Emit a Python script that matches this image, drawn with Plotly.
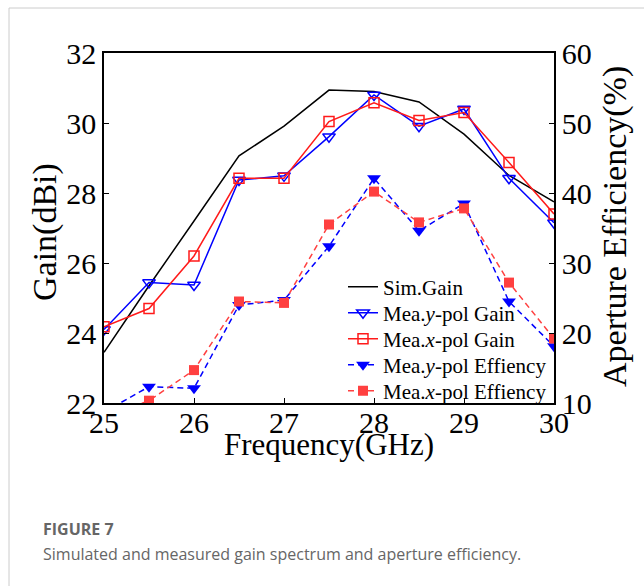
import plotly.graph_objects as go

freq = [25, 25.5, 26, 26.5, 27, 27.5, 28, 28.5, 29, 29.5, 30]
sim_gain = [23.45, 25.35, 27.2, 29.06, 29.91, 30.94, 30.9, 30.6, 29.68, 28.5, 27.75]
ypol_gain = [24.1, 25.44, 25.37, 28.37, 28.49, 29.61, 30.8, 29.91, 30.4, 28.42, 27.15]
xpol_gain = [24.18, 24.7, 26.2, 28.42, 28.42, 30.04, 30.58, 30.07, 30.3, 28.87, 27.4]
ypol_eff = [8.7, 12.33, 12.1, 24.0, 24.7, 32.4, 42.1, 34.6, 38.5, 24.5, 18.1]
xpol_eff = [8.0, 10.33, 14.7, 24.5, 24.3, 35.5, 40.2, 35.8, 37.8, 27.2, 19.2]

names = ["Sim.Gain", "Mea.<i>y</i>-pol Gain", "Mea.<i>x</i>-pol Gain",
         "Mea.<i>y</i>-pol Effiency", "Mea.<i>x</i>-pol Effiency"]

SERIF = "Liberation Serif"
BLUE = "#0000FF"
RED = "#FF1A1A"
RED_FILL = "#FF4040"

# plot area: x 104..554, y 53..403 -> W=450, H=350
L, R, T, B = 104, 90, 53, 183
W, H = 644 - L - R, 586 - T - B

def px(x):
    return (x - L) / W

def py(y):
    return (586 - B - y) / H

legend_ids = ["legend", "legend2", "legend3", "legend4", "legend5"]
row_y = [287, 313, 339, 365, 391]

fig = go.Figure()
fig.add_trace(go.Scatter(x=freq, y=sim_gain, mode="lines", name=names[0], legend=legend_ids[0],
                         line=dict(color="black", width=1.5)))
fig.add_trace(go.Scatter(x=freq, y=ypol_gain, mode="lines+markers", name=names[1], legend=legend_ids[1],
                         line=dict(color=BLUE, width=1.5),
                         marker=dict(symbol="triangle-down-open", size=11, color=BLUE,
                                     line=dict(width=1.5, color=BLUE))))
fig.add_trace(go.Scatter(x=freq, y=xpol_gain, mode="lines+markers", name=names[2], legend=legend_ids[2],
                         line=dict(color=RED, width=1.5),
                         marker=dict(symbol="square-open", size=10, color=RED,
                                     line=dict(width=1.5, color=RED))))
fig.add_trace(go.Scatter(x=freq, y=ypol_eff, mode="lines+markers", name=names[3], legend=legend_ids[3],
                         yaxis="y2",
                         line=dict(color=BLUE, width=1.5, dash="6px,4px"),
                         marker=dict(symbol="triangle-down", size=12, color=BLUE)))
fig.add_trace(go.Scatter(x=freq, y=xpol_eff, mode="lines+markers", name=names[4], legend=legend_ids[4],
                         yaxis="y2",
                         line=dict(color=RED_FILL, width=1.5, dash="6px,4px"),
                         marker=dict(symbol="square", size=10, color=RED_FILL)))

axis_common = dict(showline=True, linecolor="black", linewidth=1.5,
                   ticks="inside", ticklen=5, tickwidth=1.2, tickcolor="black",
                   showgrid=False, zeroline=False,
                   tickfont=dict(family=SERIF, size=30, color="black"))

legend_layout = {}
for lid, ry in zip(legend_ids, row_y):
    legend_layout[lid] = dict(x=px(343), y=py(ry), xanchor="left", yanchor="middle",
                              bgcolor="rgba(0,0,0,0)", borderwidth=0,
                              font=dict(family=SERIF, size=21, color="black"),
                              itemwidth=30)

fig.update_layout(
    width=644, height=586,
    margin=dict(l=L, r=R, t=T, b=B, pad=0),
    paper_bgcolor="white", plot_bgcolor="white",
    showlegend=True,
    xaxis=dict(range=[25, 30], dtick=1, mirror=True, ticklabelstandoff=-8, **axis_common),
    yaxis=dict(range=[22, 32], dtick=2, **axis_common),
    yaxis2=dict(range=[10, 60], dtick=10, overlaying="y", side="right", **axis_common),
    shapes=[
        dict(type="line", xref="paper", yref="paper", x0=px(9), x1=px(9),
             y0=py(8), y1=py(590), line=dict(color="#cccccc", width=1)),
        dict(type="line", xref="paper", yref="paper", x0=px(9), x1=px(650),
             y0=py(8), y1=py(8), line=dict(color="#cccccc", width=1)),
    ],
    annotations=[
        dict(text="Gain(dBi)", xref="paper", yref="paper", x=px(45), y=py(232),
             xanchor="center", yanchor="middle", textangle=-90, showarrow=False,
             font=dict(family=SERIF, size=34, color="black")),
        dict(text="Aperture Efficiency(%)", xref="paper", yref="paper", x=px(615), y=py(227),
             xanchor="center", yanchor="middle", textangle=-90, showarrow=False,
             font=dict(family=SERIF, size=34, color="black")),
        dict(text="Frequency(GHz)", xref="paper", yref="paper", x=px(329), y=py(444),
             xanchor="center", yanchor="middle", showarrow=False,
             font=dict(family=SERIF, size=31, color="black")),
        dict(text="<b>FIGURE 7</b>", xref="paper", yref="paper", x=px(41), y=py(529),
             xanchor="left", yanchor="middle", showarrow=False,
             font=dict(family="Open Sans", size=16, color="#666666")),
        dict(text="Simulated and measured gain spectrum and aperture efficiency.",
             xref="paper", yref="paper", x=px(41), y=py(554),
             xanchor="left", yanchor="middle", showarrow=False,
             font=dict(family="Open Sans", size=16, color="#666666")),
    ],
    **legend_layout,
)

fig.write_html("out.html")
